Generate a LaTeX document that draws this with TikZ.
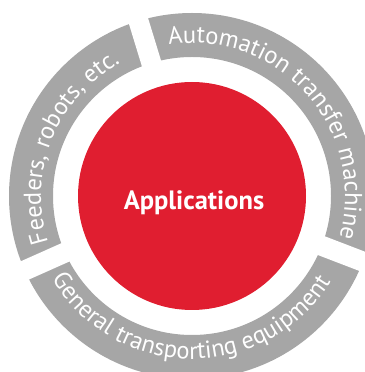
\documentclass[tikz,border=0pt]{standalone}
\usepackage{fontspec}
\setmainfont{PT Sans}
\usepackage{tikz}
\usetikzlibrary{decorations.text}
\definecolor{appred}{RGB}{224,30,48}
\definecolor{ringgray}{RGB}{166,166,166}
\newcommand{\ringfont}{\fontsize{24.5}{24.5}\selectfont}
\tikzset{
	ringtext/.style={decorate, decoration={text along path, text align=center, text color=white, text={|\ringfont|#1}}}
}

\begin{document}
\begin{tikzpicture}[x=1pt, y=1pt]
			\useasboundingbox (0,0) rectangle (364,372);
			\coordinate (c) at (192,176);
			% ring
			\fill[ringgray, even odd rule] (c) circle (183) (c) circle (139);
			\foreach \a in {107, -21, 204}
				\draw[white, line width=20] (c) -- ++(\a:200);
			
			% ring labels
			\path[ringtext={Automation transfer machine}, shift={(c)}] (105.5:153) arc[start angle=105.5, end angle=-22.5, radius=153];
			\path[ringtext={Feeders, robots, etc.}, shift={(c)}] (204:151) arc[start angle=204, end angle=112, radius=151];
			\path[ringtext={General transporting equipment}, shift={(c)}] (205.5:163) arc[start angle=205.5, end angle=333.5, radius=163];
			
			% centre
			\fill[appred] (c) circle (114);
			\node[anchor=base, text=white, font=\bfseries\fontsize{26.5}{26.5}\selectfont] (apps) at (194,162) {Applications};
		\end{tikzpicture}
\end{document}
